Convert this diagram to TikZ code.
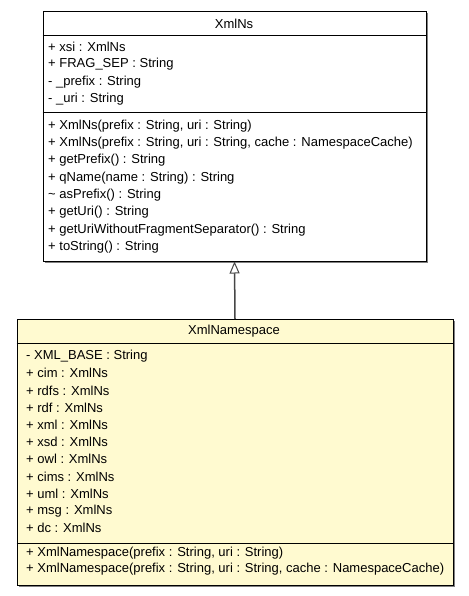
\documentclass[tikz,border=0pt]{standalone}
\usepackage{fontspec}
\setmainfont{Liberation Sans}
\usetikzlibrary{arrows.meta,positioning,shadows}
\definecolor{classfill}{RGB}{255,250,208}
\definecolor{edgegray}{RGB}{70,70,70}
\tikzset{
	class box/.style={draw=black, line width=1pt, inner sep=0, anchor=north west,
		drop shadow={shadow xshift=1.5pt, shadow yshift=-1.5pt, fill=gray, opacity=1}},
	member/.style={anchor=west, inner sep=0, font=\fontsize{13}{15}\selectfont},
	title/.style={inner sep=0, font=\fontsize{13}{15}\selectfont},
	inherit/.style={draw=edgegray, line width=1.5pt, -{Triangle[open, length=12pt, width=10pt, line width=1pt, fill=white]}}
}

\begin{document}
\begin{tikzpicture}[x=1pt, y=-1pt]
	\useasboundingbox (0,0) rectangle (468,596);
	
	% parent class
	\node[class box, fill=white, minimum width=383pt, minimum height=249.5pt] (xmlns) at (42.5,11) {};
	\node[title] (xmlnsname) at (234,23.5) {XmlNs};
	\draw[line width=1pt] (42.5,35.5) -- (425.5,35.5);
	\draw[line width=1pt] (42.5,112.5) -- (425.5,112.5);
	\foreach \txt [count=\i from 0] in {+ xsi : XmlNs, + FRAG\_SEP : String, - \_prefix : String, - \_uri : String}
		\node[member] at (48,47+17.5*\i) {\txt};
	\foreach \txt [count=\i from 0] in {+ XmlNs(prefix : String{,} uri : String),
			+ XmlNs(prefix : String{,} uri : String{,} cache : NamespaceCache),
			+ getPrefix() : String, + qName(name : String) : String,
			\textasciitilde{} asPrefix() : String, + getUri() : String,
			+ getUriWithoutFragmentSeparator() : String, + toString() : String}
		\node[member] at (48,126+17.3*\i) {\txt};
	
	% child class
	\node[class box, fill=classfill, minimum width=436pt, minimum height=266pt] (xmlnamespace) at (16.5,319) {};
	\node[title] (xmlnamespacename) at (234,331) {XmlNamespace};
	\draw[line width=1pt] (16.5,343) -- (452.5,343);
	\draw[line width=1pt] (16.5,543) -- (452.5,543);
	\foreach \txt [count=\i from 0] in {- XML\_BASE : String, + cim : XmlNs, + rdfs : XmlNs, + rdf : XmlNs,
			+ xml : XmlNs, + xsd : XmlNs, + owl : XmlNs, + cims : XmlNs, + uml : XmlNs,
			+ msg : XmlNs, + dc : XmlNs}
		\node[member] at (26,356+17.2*\i) {\txt};
	\node[member] at (26,553.5) {+ XmlNamespace(prefix : String, uri : String)};
	\node[member] at (26,569.5) {+ XmlNamespace(prefix : String, uri : String, cache : NamespaceCache)};
	
	% generalisation
	\draw[inherit] (xmlnamespace.north) -- (xmlns.south);
\end{tikzpicture}
\end{document}
